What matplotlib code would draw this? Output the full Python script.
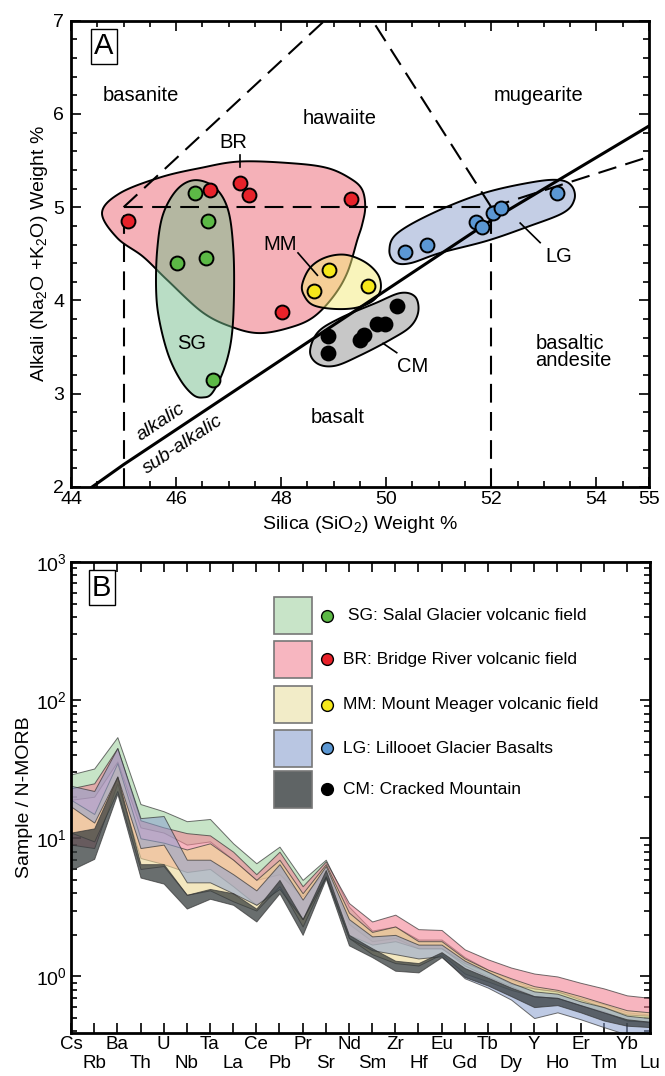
import numpy as np
import matplotlib
matplotlib.use("Agg")
import matplotlib.pyplot as plt
from matplotlib.patches import Polygon, Rectangle
from matplotlib.colors import to_rgba
from matplotlib.ticker import MultipleLocator, LogLocator, NullFormatter

plt.rcParams["font.family"] = ["Liberation Sans", "DejaVu Sans"]
plt.rcParams["mathtext.fontset"] = "custom"
plt.rcParams["mathtext.rm"] = "Liberation Sans"
plt.rcParams["mathtext.it"] = "Liberation Sans:italic"
plt.rcParams["mathtext.default"] = "regular"

# ---- Panel A: TAS data (SiO2, Na2O+K2O wt%) ----
sg_sio2 = [46.36, 46.61, 46.02, 46.57, 46.70]
sg_alk = [5.15, 4.85, 4.40, 4.46, 3.15]
br_sio2 = [45.09, 46.65, 47.22, 47.39, 49.33, 48.02]
br_alk = [4.85, 5.18, 5.26, 5.13, 5.09, 3.88]
mm_sio2 = [48.91, 48.63, 49.66]
mm_alk = [4.33, 4.10, 4.16]
lg_sio2 = [50.36, 50.78, 51.70, 51.83, 52.04, 52.19, 53.26]
lg_alk = [4.52, 4.59, 4.84, 4.79, 4.94, 4.99, 5.15]
cm_sio2 = [48.90, 48.90, 49.50, 49.58, 49.83, 49.98, 50.21]
cm_alk = [3.62, 3.44, 3.58, 3.63, 3.75, 3.75, 3.94]

# field envelopes (outline points, smoothed later)
br_env_x = [44.59, 44.93, 45.70, 46.46, 47.22, 48.23, 48.88, 49.31, 49.54, 49.60, 49.54,
            49.45, 49.26, 48.99, 48.61, 48.17, 47.60, 47.09, 46.51, 45.83, 45.37, 44.88]
br_env_y = [4.94, 5.15, 5.32, 5.42, 5.49, 5.47, 5.42, 5.31, 5.19, 5.00, 4.81,
            4.65, 4.30, 4.04, 3.82, 3.71, 3.65, 3.71, 3.87, 4.22, 4.47, 4.67]
sg_env_x = [46.36, 46.74, 46.99, 47.09, 47.10, 47.05, 46.91, 46.69, 46.51, 46.32,
            46.08, 45.85, 45.68, 45.62, 45.64, 45.75, 46.02]
sg_env_y = [5.29, 5.21, 4.97, 4.54, 4.01, 3.58, 3.26, 3.01, 2.96, 2.99,
            3.15, 3.42, 3.79, 4.11, 4.54, 4.92, 5.19]
mm_env_x = [48.40, 48.55, 48.84, 49.22, 49.60, 49.85, 49.89, 49.73, 49.41, 48.99, 48.61, 48.44]
mm_env_y = [4.17, 4.35, 4.46, 4.49, 4.41, 4.27, 4.11, 3.99, 3.92, 3.91, 3.95, 4.05]
cm_env_x = [48.55, 48.70, 49.12, 49.79, 50.27, 50.55, 50.61, 50.46, 50.08, 49.50, 49.03, 48.70]
cm_env_y = [3.45, 3.66, 3.81, 3.97, 4.08, 4.04, 3.88, 3.72, 3.58, 3.41, 3.30, 3.32]
lg_env_x = [50.06, 50.21, 50.90, 51.85, 52.80, 53.31, 53.54, 53.58, 53.37, 52.69,
            51.92, 51.03, 50.46, 50.17]
lg_env_y = [4.54, 4.72, 4.94, 5.15, 5.27, 5.29, 5.22, 5.08, 4.94, 4.79,
            4.64, 4.51, 4.40, 4.41]

# TAS field boundaries
tas_dashed = [
    ([45, 45], [2, 5]),
    ([45, 52], [5, 5]),
    ([52, 52], [2, 5]),
    ([45, 49.4], [5, 7.3]),
    ([52, 49.4], [5, 7.3]),
    ([52, 55], [5, 5.54]),
]
alk_line_x = [44.4, 45.0, 52.0, 55.0]
alk_line_y = [2.0, 2.24, 4.86, 5.87]

# ---- Panel B: N-MORB normalised spider diagram ----
elements = ["Cs", "Rb", "Ba", "Th", "U", "Nb", "Ta", "La", "Ce", "Pb", "Pr", "Sr", "Nd",
            "Sm", "Zr", "Hf", "Eu", "Gd", "Tb", "Dy", "Y", "Ho", "Er", "Tm", "Yb", "Lu"]
sg_hi = [29, 32, 54, 17.7, 15.7, 13.3, 13.8, 9.2, 6.6, 8.7, 5.0, 7.0, 3.2, 2.15, 2.3, 1.85,
         1.85, 1.38, 1.12, 0.95, 0.82, 0.78, 0.70, 0.63, 0.55, 0.53]
sg_lo = [19, 20, 36, 12, 11, 9, 9.5, 7, 5.0, 5.5, 3.8, 5.8, 2.4, 1.8, 1.9, 1.6,
         1.6, 1.2, 1.0, 0.85, 0.72, 0.70, 0.62, 0.56, 0.48, 0.47]
br_hi = [23, 25, 45, 13.5, 12, 10.9, 10.5, 8, 5.5, 8.0, 4.5, 6.8, 3.4, 2.5, 2.8, 2.2,
         2.17, 1.57, 1.33, 1.16, 1.05, 1.0, 0.9, 0.82, 0.73, 0.70]
br_lo = [9, 8.5, 25, 7.2, 6.5, 5.7, 6.0, 4.5, 3.3, 4.5, 2.6, 5.3, 2.0, 1.7, 1.8, 1.6,
         1.6, 1.25, 1.08, 0.88, 0.82, 0.78, 0.68, 0.60, 0.53, 0.52]
mm_hi = [19, 15, 35, 10, 9.3, 8.3, 9.2, 7, 5.0, 7.0, 4.0, 6.5, 2.9, 2.1, 2.3, 1.8,
         1.8, 1.35, 1.12, 0.97, 0.85, 0.80, 0.72, 0.64, 0.57, 0.55]
mm_lo = [11, 9.5, 22, 6.0, 6.3, 3.9, 4.2, 3.5, 3.0, 4.5, 2.3, 5.3, 1.9, 1.45, 1.25, 1.2,
         1.45, 1.05, 0.92, 0.80, 0.72, 0.70, 0.62, 0.55, 0.48, 0.47]
lg_hi = [24, 22, 45, 14, 14.5, 7.0, 7.0, 5.5, 4.2, 6.5, 3.6, 6.3, 2.6, 1.95, 2.0, 1.7,
         1.7, 1.3, 1.08, 0.90, 0.78, 0.75, 0.66, 0.60, 0.52, 0.50]
lg_lo = [17, 13, 28, 8.5, 9, 4.8, 4.8, 4.0, 3.3, 4.3, 2.6, 5.3, 1.9, 1.55, 1.45, 1.35,
         1.4, 0.97, 0.83, 0.68, 0.50, 0.55, 0.49, 0.43, 0.38, 0.37]
cm_hi = [11, 11.8, 28, 6.5, 6.5, 3.9, 4.3, 4.0, 3.1, 5.0, 2.6, 5.9, 2.0, 1.6, 1.3, 1.25,
         1.5, 1.15, 0.98, 0.83, 0.72, 0.70, 0.62, 0.55, 0.49, 0.47]
cm_lo = [5.9, 7.1, 21, 5.2, 4.7, 3.1, 3.65, 3.3, 2.5, 4.0, 2.0, 5.1, 1.68, 1.38, 1.1, 1.07,
         1.38, 0.99, 0.86, 0.72, 0.60, 0.62, 0.55, 0.48, 0.44, 0.43]

legend_labels = [" SG: Salal Glacier volcanic field", "BR: Bridge River volcanic field",
                 "MM: Mount Meager volcanic field", "LG: Lillooet Glacier Basalts",
                 "CM: Cracked Mountain"]

dot_colors = {"SG": "#5cb946", "BR": "#e8222a", "MM": "#f6e81a", "LG": "#5b97d3", "CM": "black"}
env_colors = {"SG": "#74bd8c", "BR": "#ed6573", "MM": "#f5eb78", "LG": "#8b9fcd", "CM": "#919191"}
band_colors = {"SG": "#a3d2a3", "BR": "#f28595", "MM": "#ecd795", "LG": "#8aa0cf", "CM": "#373d3e"}
swatch_colors = {"SG": "#c8e4c8", "BR": "#f7b6c0", "MM": "#f2ecc8", "LG": "#b9c6e2", "CM": "#5f6465"}


def smooth_closed(xs, ys, n=16):
    """Closed Catmull-Rom curve through the outline points."""
    p = np.column_stack([xs, ys])
    m = len(p)
    t = np.linspace(0, 1, n, endpoint=False)[:, None]
    segs = []
    for i in range(m):
        p0, p1, p2, p3 = p[i - 1], p[i], p[(i + 1) % m], p[(i + 2) % m]
        segs.append(0.5 * (2 * p1 + (-p0 + p2) * t + (2 * p0 - 5 * p1 + 4 * p2 - p3) * t ** 2
                           + (-p0 + 3 * p1 - 3 * p2 + p3) * t ** 3))
    return np.vstack(segs)


fig = plt.figure(figsize=(6.65, 10.76), dpi=100)
ax = fig.add_axes([0.1068, 0.5474, 0.869, 0.4334])
axb = fig.add_axes([0.1068, 0.040, 0.8707, 0.4377])

# ================= Panel A =================
ax.set_xlim(44, 55)
ax.set_ylim(2, 7)

envelopes = [("BR", br_env_x, br_env_y), ("SG", sg_env_x, sg_env_y), ("MM", mm_env_x, mm_env_y),
             ("LG", lg_env_x, lg_env_y), ("CM", cm_env_x, cm_env_y)]
for key, ex, ey in envelopes:
    pts = smooth_closed(ex, ey)
    ax.add_patch(Polygon(pts, closed=True, facecolor=to_rgba(env_colors[key], 0.5),
                         edgecolor="black", lw=1.4, zorder=2))

for xs, ys in tas_dashed:
    ax.plot(xs, ys, color="black", lw=1.5, ls=(0, (9, 4.5)), zorder=3)
ax.plot(alk_line_x, alk_line_y, color="black", lw=2.2, zorder=3)

points = [("SG", sg_sio2, sg_alk), ("BR", br_sio2, br_alk), ("MM", mm_sio2, mm_alk),
          ("LG", lg_sio2, lg_alk), ("CM", cm_sio2, cm_alk)]
for key, px, py in points:
    ax.plot(px, py, "o", ms=10, mfc=dot_colors[key], mec="black", mew=1.4, zorder=5)

lab_kw = dict(fontsize=14.5, ha="center", va="center", zorder=6)
ax.text(45.33, 6.2, "basanite", **lab_kw)
ax.text(49.12, 5.95, "hawaiite", **lab_kw)
ax.text(52.9, 6.2, "mugearite", **lab_kw)
ax.text(49.07, 2.74, "basalt", **lab_kw)
ax.text(52.84, 3.45, "basaltic\nandesite", fontsize=14.5, ha="left", va="center",
        linespacing=0.85, zorder=6)
ax.text(47.09, 5.69, "BR", **lab_kw)
ax.text(46.3, 3.54, "SG", **lab_kw)
ax.text(47.98, 4.6, "MM", **lab_kw)
ax.text(50.51, 3.29, "CM", **lab_kw)
ax.text(53.28, 4.47, "LG", **lab_kw)

leaders = [([47.22, 47.22], [5.56, 5.43]), ([48.32, 48.69], [4.51, 4.27]),
           ([49.94, 50.2], [3.54, 3.44]), ([52.55, 52.93], [4.83, 4.62])]
for lx, ly in leaders:
    ax.plot(lx, ly, color="black", lw=1.2, zorder=4)

p1 = ax.transData.transform((45.0, 2.24))
p2 = ax.transData.transform((52.0, 4.86))
ang = np.degrees(np.arctan2(p2[1] - p1[1], p2[0] - p1[0]))
ax.text(45.7, 2.69, "alkalic", fontsize=14, style="italic", rotation=ang,
        ha="center", va="center", rotation_mode="anchor")
ax.text(46.13, 2.45, "sub-alkalic", fontsize=14, style="italic", rotation=ang,
        ha="center", va="center", rotation_mode="anchor")

ax.text(0.057, 0.945, "A", transform=ax.transAxes, fontsize=21, ha="center", va="center",
        bbox=dict(boxstyle="square,pad=0.12", fc="white", ec="black", lw=1.0), zorder=7)

ax.set_xticks([44, 46, 48, 50, 52, 54, 55])
ax.xaxis.set_minor_locator(MultipleLocator(0.5))
ax.yaxis.set_major_locator(MultipleLocator(1))
ax.yaxis.set_minor_locator(MultipleLocator(0.2))
ax.tick_params(which="both", direction="in", top=True, right=True, labelsize=14, width=1.2)
ax.tick_params(which="major", length=7, pad=3)
ax.tick_params(axis="y", which="major", pad=5)
ax.tick_params(which="minor", length=4)
for s in ax.spines.values():
    s.set_linewidth(2)
ax.set_xlabel("Silica (SiO$_2$) Weight %", fontsize=14, labelpad=4)
ax.set_ylabel("Alkali (Na$_2$O +K$_2$O) Weight %", fontsize=14, labelpad=2)

# ================= Panel B =================
x = np.arange(len(elements))
bands = [("SG", sg_lo, sg_hi, 0.6), ("BR", br_lo, br_hi, 0.6), ("MM", mm_lo, mm_hi, 0.6),
         ("LG", lg_lo, lg_hi, 0.55), ("CM", cm_lo, cm_hi, 0.75)]
for key, lo, hi, a in bands:
    axb.fill_between(x, lo, hi, facecolor=to_rgba(band_colors[key], a),
                     edgecolor=(0.2, 0.2, 0.2, 0.7), lw=0.7, zorder=2)

axb.set_yscale("log")
axb.set_xlim(0, len(elements) - 1)
axb.set_ylim(0.39, 1000)
axb.set_xticks(x)
axb.set_xticklabels([e if i % 2 == 0 else "\n" + e for i, e in enumerate(elements)])
axb.yaxis.set_major_locator(LogLocator(base=10, numticks=10))
axb.yaxis.set_minor_locator(LogLocator(base=10, subs=np.arange(2, 10), numticks=10))
axb.yaxis.set_minor_formatter(NullFormatter())
axb.tick_params(which="both", direction="in", top=True, right=True, labelsize=14, width=1.2)
axb.tick_params(axis="x", which="major", length=7, pad=2, labelsize=13.5)
axb.tick_params(axis="y", which="major", length=7, pad=3)
axb.tick_params(which="minor", length=4)
for s in axb.spines.values():
    s.set_linewidth(2)
axb.set_ylabel("Sample / N-MORB", fontsize=14, labelpad=2)

axb.text(0.053, 0.945, "B", transform=axb.transAxes, fontsize=21, ha="center", va="center",
         bbox=dict(boxstyle="square,pad=0.12", fc="white", ec="black", lw=1.0), zorder=7)

# legend drawn as swatch + dot + label
sw_bottoms = [0.847, 0.754, 0.658, 0.565, 0.478]
for key, lab, yb in zip(["SG", "BR", "MM", "LG", "CM"], legend_labels, sw_bottoms):
    axb.add_patch(Rectangle((0.351, yb), 0.0656, 0.0786, transform=axb.transAxes,
                            facecolor=swatch_colors[key], edgecolor="#777777", lw=1.2, zorder=6))
    axb.plot([0.442], [yb + 0.039], "o", ms=8.5, mfc=dot_colors[key], mec="black", mew=1,
             transform=axb.transAxes, zorder=6)
    axb.text(0.469, yb + 0.039, lab, transform=axb.transAxes, fontsize=12.5,
             ha="left", va="center", zorder=6)

fig.savefig("out.png", dpi=100)
